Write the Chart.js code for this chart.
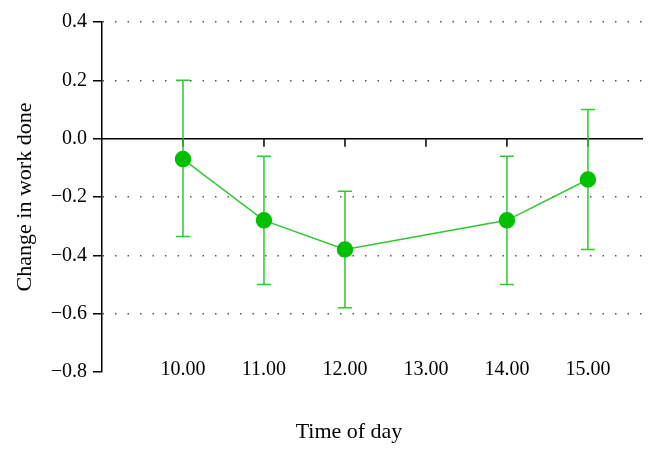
<!DOCTYPE html>
<html>
<head>
<meta charset="utf-8">
<script src="https://cdn.jsdelivr.net/npm/chart.js@4.4.1/dist/chart.umd.min.js"></script>
<style>
    html,body{margin:0;padding:0;background:#fff;}
    #wrap{width:657px;height:457px;}
</style>
</head>
<body>
<div id="wrap"><canvas id="Grafico1"></canvas></div>
<script>
let horas=[10,11,12,13,14,15];
let etiquetas=['10.00','11.00','12.00','13.00','14.00','15.00'];
let valores=[-0.07,-0.28,-0.38,null,-0.28,-0.14];
let superior=[0.20,-0.06,-0.18,null,-0.06,0.10];
let inferior=[-0.335,-0.50,-0.58,null,-0.50,-0.38];

let verde='#00c000';
let verdeLinea='#2fc82f';
let fuente='"Liberation Serif", "DejaVu Serif", serif';

let puntos=[];
for(let i=0;i<horas.length;i++){
    puntos.push({x:horas[i],y:valores[i]});
}

// barras de error, linea del cero y titulo del eje x
let extras={
    id:'extras',
    beforeDatasetsDraw(chart){
        let ctx=chart.ctx;
        let x=chart.scales.x;
        let y=chart.scales.y;
        let area=chart.chartArea;
        ctx.save();
        // linea en cero
        let y0=y.getPixelForValue(0);
        ctx.strokeStyle='#000';
        ctx.lineWidth=1.5;
        ctx.beginPath();
        ctx.moveTo(area.left,y0);
        ctx.lineTo(area.right,y0);
        horas.forEach(h=>{
            let px=x.getPixelForValue(h);
            ctx.moveTo(px,y0);
            ctx.lineTo(px,y0+8);
        });
        ctx.stroke();
        // barras de error
        ctx.strokeStyle=verdeLinea;
        ctx.lineWidth=1.5;
        ctx.beginPath();
        for(let i=0;i<horas.length;i++){
            if(valores[i]===null) continue;
            let px=x.getPixelForValue(horas[i]);
            let pa=y.getPixelForValue(superior[i]);
            let pb=y.getPixelForValue(inferior[i]);
            ctx.moveTo(px,pa);
            ctx.lineTo(px,pb);
            ctx.moveTo(px-7,pa);
            ctx.lineTo(px+7,pa);
            ctx.moveTo(px-7,pb);
            ctx.lineTo(px+7,pb);
        }
        ctx.stroke();
        ctx.restore();
    },
    afterDraw(chart){
        let ctx=chart.ctx;
        ctx.save();
        ctx.fillStyle='#000';
        ctx.font='22px '+fuente;
        ctx.textAlign='center';
        ctx.textBaseline='middle';
        ctx.fillText('Time of day',349,432);
        ctx.restore();
    }
};

let CanvasG1=document.getElementById('Grafico1').getContext('2d');
let G1=new Chart(CanvasG1,{
    type:'line',
    data:{
        datasets:[{
            data:puntos,
            borderColor:verdeLinea,
            borderWidth:1.5,
            backgroundColor:verde,
            pointBackgroundColor:verde,
            pointBorderColor:verde,
            pointRadius:7.5,
            pointHoverRadius:7.5,
            spanGaps:true,
            tension:0,
        }]
    },
    options:{
        responsive:true,
        maintainAspectRatio:false,
        animation:false,
        layout:{padding:{left:0,right:14,top:22,bottom:0}},
        plugins:{
            legend:{display:false},
            tooltip:{enabled:false},
        },
        scales:{
            x:{
                type:'linear',
                min:9,
                max:15.68,
                afterFit(scale){ scale.height=85; },
                grid:{display:false,drawTicks:false},
                border:{display:false},
                ticks:{
                    stepSize:1,
                    includeBounds:false,
                    autoSkip:false,
                    maxRotation:0,
                    mirror:true,
                    padding:-10,
                    color:'#000',
                    font:{family:fuente,size:20},
                    callback(v){
                        let i=horas.indexOf(v);
                        return i>=0 ? etiquetas[i] : '';
                    }
                }
            },
            y:{
                min:-0.8,
                max:0.4,
                afterFit(scale){ scale.width=102; },
                border:{display:true,color:'#000',width:1.5,dash:[1.5,11]},
                grid:{
                    color(c){
                        let v=c.tick ? c.tick.value : 0;
                        if(Math.abs(v)<1e-9 || Math.abs(v+0.8)<1e-9) return 'rgba(0,0,0,0)';
                        return '#555';
                    },
                    lineWidth:1.5,
                    tickColor:'#000',
                    tickLength:9,
                    tickWidth:1.5,
                },
                ticks:{
                    stepSize:0.2,
                    padding:6,
                    color:'#000',
                    font:{family:fuente,size:20},
                    callback(v){
                        if(Math.abs(v)<1e-9) return '0.0';
                        return v.toFixed(1).replace('-','\u2212');
                    }
                },
                title:{
                    display:true,
                    text:'Change in work done',
                    color:'#000',
                    font:{family:fuente,size:22},
                    padding:{top:12,bottom:0},
                }
            }
        }
    },
    plugins:[extras],
});
</script>
</body>
</html>
